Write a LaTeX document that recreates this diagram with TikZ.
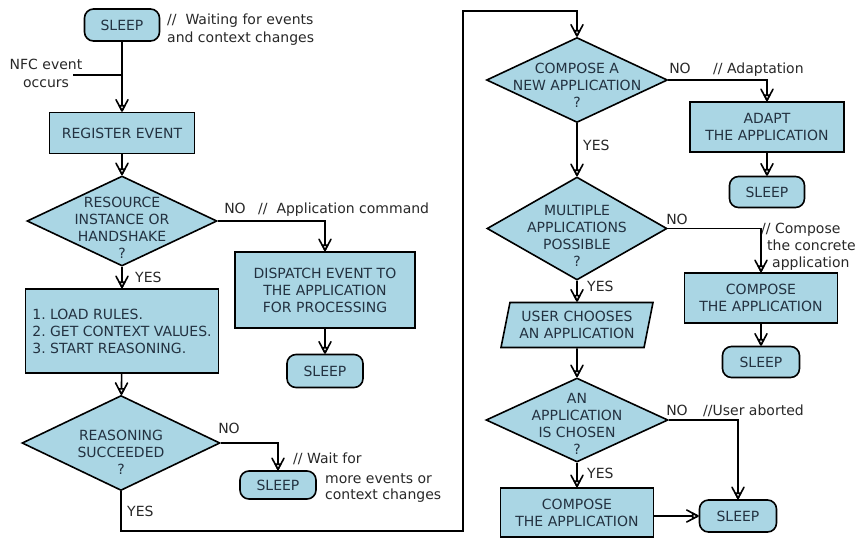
\documentclass[tikz,border=0pt]{standalone}
\usepackage{fontspec}
\setmainfont{DejaVu Sans}
\usetikzlibrary{arrows.meta,shapes.geometric}
\definecolor{boxfill}{RGB}{170,214,228}
\definecolor{boxtext}{RGB}{35,50,65}
\definecolor{cmt}{RGB}{40,40,40}
\frenchspacing
\newcommand{\dtxt}[2]{\smash{\makebox[0pt]{\raisebox{#1}{\begin{tabular}{@{}c@{}}#2\end{tabular}}}}}
\pgfdeclarearrow{
  name=Vtri,
  setup code={
    \pgfarrowssettipend{0pt}
    \pgfarrowssetlineend{-5pt}
    \pgfarrowssetbackend{-12pt}
    \pgfarrowssetvisualbackend{-5pt}
    \pgfarrowshullpoint{0pt}{0pt}
    \pgfarrowshullpoint{-12pt}{6pt}
    \pgfarrowshullpoint{-12pt}{-6pt}
  },
  drawing code={
    \pgfsetdash{}{0pt}
    \pgfsetroundjoin
    \pgfsetroundcap
    \pgfsetlinewidth{1.6pt}
    \pgfpathmoveto{\pgfpoint{-12pt}{6pt}}
    \pgfpathlineto{\pgfpoint{-0.8pt}{0pt}}
    \pgfpathlineto{\pgfpoint{-12pt}{-6pt}}
    \pgfusepathqstroke
    \pgfpathmoveto{\pgfpoint{-1pt}{0pt}}
    \pgfpathlineto{\pgfpoint{-6pt}{2.6pt}}
    \pgfpathlineto{\pgfpoint{-6pt}{-2.6pt}}
    \pgfpathclose
    \pgfsetfillcolor{white}
    \pgfusepathqfillstroke
  }
}
\begin{document}
\begin{tikzpicture}[x=1pt,y=-1pt,
  base/.style={draw=black, line width=1.6pt, fill=boxfill, text=boxtext,
    font=\fontsize{14}{17}\selectfont},
  proc/.style={base, rectangle, align=center, inner sep=2pt},
  dia/.style={base, diamond, inner sep=0pt},
  sleepbox/.style={base, rectangle, rounded corners=9pt, inner sep=0pt,
    text height=10.2pt, text depth=0pt},
  para/.style={base, trapezium, trapezium left angle=72, trapezium right angle=108,
    trapezium stretches body, align=center, inner sep=0pt},
  lbl/.style={text=cmt, inner sep=0pt, font=\fontsize{14}{17}\selectfont,
    text height=10.2pt, text depth=0pt},
  conn/.style={line width=1.6pt, -{Vtri}},
  wire/.style={line width=1.6pt}
]
\useasboundingbox (0,0) rectangle (857,539);
\fill[white] (0,0) rectangle (857,539);

% ---------- left column ----------
\node[sleepbox, minimum width=75pt, minimum height=32pt] (s1) at (122,25) {SLEEP};
\node[lbl, anchor=west] (c1a) at (167,19) {//\ \ Waiting for events};
\node[lbl, anchor=west] (c1b) at (167,37) {and context changes};
\node[lbl] (nfc1) at (46,64) {NFC event};
\node[lbl] (nfc2) at (46,82) {occurs};
\coordinate (nfcend) at (73,75);

\node[proc, minimum width=145pt, minimum height=41pt] (reg) at (122,133) {REGISTER EVENT};

\node[dia, minimum width=190pt, minimum height=90pt] (d1) at (122,221)
  {\dtxt{-12.2pt}{RESOURCE\\INSTANCE OR\\HANDSHAKE\\?}};
\node[lbl] (no1) at (235,208) {NO};
\node[lbl, anchor=west] (c2) at (258,208) {//\ \ Application command};
\node[lbl, anchor=west] (yes1) at (135,277) {YES};

\node[proc, minimum width=180pt, minimum height=76pt] (disp) at (325,290)
  {DISPATCH EVENT TO\\THE APPLICATION\\FOR PROCESSING};
\node[sleepbox, minimum width=76pt, minimum height=33pt] (s2) at (325,371) {SLEEP};

\node[proc, align=left, minimum width=193pt, minimum height=84pt] (rules) at (122,331)
  {1. LOAD RULES.\\2. GET CONTEXT VALUES.\\3. START REASONING.};

\node[dia, minimum width=198pt, minimum height=95pt] (d2) at (121,443)
  {\dtxt{-14.2pt}{REASONING\\SUCCEEDED\\?}};
\node[lbl] (no2) at (229,428) {NO};
\node[lbl, anchor=west] (yes2) at (127,511) {YES};
\node[sleepbox, minimum width=76pt, minimum height=28pt] (s3) at (278,485) {SLEEP};
\node[lbl, anchor=west] (c3a) at (293,458) {// Wait for};
\node[lbl, anchor=west] (c3b) at (325,478) {more events or};
\node[lbl, anchor=west] (c3c) at (325,494) {context changes};

\coordinate (lp1) at (463,531);
\coordinate (lp2) at (463,11);

% ---------- right column ----------
\node[dia, minimum width=181pt, minimum height=85pt] (d3) at (577,80)
  {\dtxt{-10.2pt}{COMPOSE A\\NEW APPLICATION\\?}};
\node[lbl] (no3) at (680,68) {NO};
\node[lbl, anchor=west] (c4) at (713,68) {// Adaptation};
\node[lbl, anchor=west] (yes3) at (583,145) {YES};
\node[proc, minimum width=154pt, minimum height=50pt] (adapt) at (767,127)
  {ADAPT\\THE APPLICATION};
\node[sleepbox, minimum width=75pt, minimum height=31pt] (s4) at (767,192) {SLEEP};

\node[dia, minimum width=180pt, minimum height=103pt] (d4) at (577,228.5)
  {\dtxt{-12.2pt}{MULTIPLE\\APPLICATIONS\\POSSIBLE\\?}};
\node[lbl] (no4) at (677,219) {NO};
\node[lbl, anchor=west] (c5a) at (761,228) {// Compose};
\node[lbl, anchor=west] (c5b) at (767,245) {the concrete};
\node[lbl, anchor=west] (c5c) at (772,262) {application};
\node[lbl, anchor=west] (yes4) at (587,286) {YES};
\node[proc, minimum width=153pt, minimum height=50pt] (comp1) at (761,298)
  {COMPOSE\\THE APPLICATION};
\node[sleepbox, minimum width=77pt, minimum height=31pt] (s5) at (761,362) {SLEEP};

\node[para, minimum width=152pt, minimum height=45pt] (para) at (577,325)
  {USER CHOOSES\\AN APPLICATION};

\node[dia, minimum width=182pt, minimum height=84pt] (d5) at (577,420)
  {\dtxt{-8.7pt}{AN\\APPLICATION\\IS CHOSEN\\?}};
\node[lbl] (no5) at (677,410) {NO};
\node[lbl, anchor=west] (c6) at (703,410) {//User aborted};
\node[lbl, anchor=west] (yes5) at (587,473) {YES};
\node[proc, minimum width=153pt, minimum height=49pt] (comp2) at (577,512.5)
  {COMPOSE\\THE APPLICATION};
\node[sleepbox, minimum width=77pt, minimum height=32pt] (s6) at (738,516) {SLEEP};

% ---------- connectors ----------
\draw[conn] (s1) -- (reg);
\draw[wire] (nfcend) -- (nfcend -| s1);
\draw[conn] (reg) -- (d1);
\draw[conn] (d1.east) -| (disp.north);
\draw[conn] (disp) -- (s2);
\draw[conn] (d1.south) -- (rules);
\draw[conn] (rules) -- (d2);
\draw[conn] (d2.east) -| (s3.north);
\draw[conn] (d2.south) |- (lp1) -- (lp2) -| (d3.north);
\draw[conn] (d3.east) -| (adapt.north);
\draw[conn] (adapt) -- (s4);
\draw[conn] (d3.south) -- (d4.north);
\draw[conn] (d4.east) -| (comp1.north);
\draw[conn] (comp1) -- (s5);
\draw[conn] (d4.south) -- (para.north);
\draw[conn] (para.south) -- (d5.north);
\draw[conn] (d5.east) -| (s6.north);
\draw[conn] (d5.south) -- (comp2.north);
\draw[conn] (comp2.east |- s6) -- (s6.west);
\end{tikzpicture}
\end{document}
